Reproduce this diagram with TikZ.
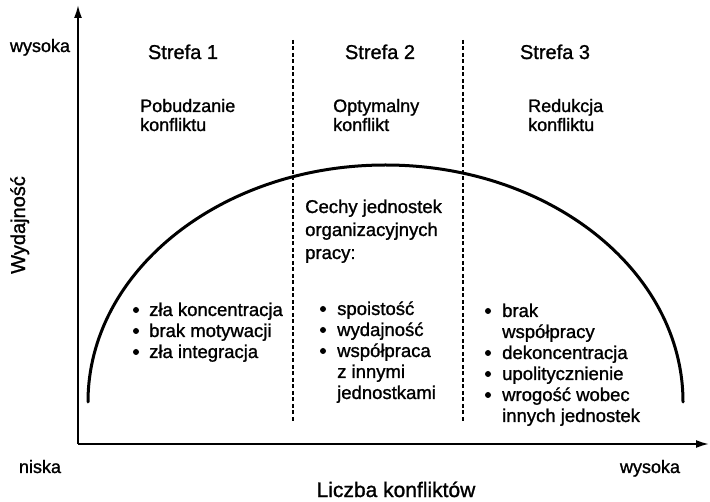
\documentclass[tikz,border=0pt]{standalone}
\usepackage{fontspec}
\setmainfont{Liberation Sans}
\newfontfamily\heavysans{Liberation Sans}[RawFeature={embolden=1.2}]
\usetikzlibrary{arrows.meta}
\begin{document}
\begin{tikzpicture}[x=1pt,y=-1pt,
  axis/.style={line width=1.8pt,-{Latex[length=13pt,width=8pt]}},
  zoneline/.style={line width=1.4pt,dash pattern=on 4pt off 2.5pt},
  curveline/.style={line width=3pt,line cap=round},
  lbl/.style={inner sep=0pt,anchor=base west,font=\heavysans\fontsize{18}{21}\selectfont},
  zonetitle/.style={inner sep=0pt,anchor=base,font=\heavysans\fontsize{20}{24}\selectfont},
  item/.style={inner sep=0pt,anchor=base west,font=\heavysans\fontsize{18.5}{21}\selectfont},
  dot/.style={circle,fill=black,inner sep=0pt,minimum size=6pt}]
\useasboundingbox (0,0) rectangle (710,502);

% axes
\coordinate (origin) at (78,444);
\coordinate (ytop) at (78,5);
\coordinate (xend) at (709,444);
\draw[axis] (origin) -- (ytop);
\draw[axis] (origin) -- (xend);

% zone boundaries
\coordinate (d1t) at (293,40); \coordinate (d1b) at (293,422);
\coordinate (d2t) at (463,40); \coordinate (d2b) at (463,422);
\draw[zoneline] (d1t) -- (d1b);
\draw[zoneline] (d2t) -- (d2b);

% performance curve (half ellipse; y axis points down here)
\coordinate (cstart) at (88,402);
\draw[curveline] (cstart) arc[start angle=180,end angle=360,x radius=297.5,y radius=237];

% axis labels
\node[lbl,anchor=base] (yhigh) at (40,52) {wysoka};
\node[lbl,anchor=base] (ylow) at (40,473) {niska};
\node[lbl,anchor=base] (xhigh) at (650,473) {wysoka};
\node[inner sep=0pt,anchor=base,font=\heavysans\fontsize{21}{24}\selectfont] (xlabel) at (396,497) {Liczba konfliktów};
\node[inner sep=0pt,anchor=base,rotate=90,font=\heavysans\fontsize{20}{24}\selectfont] (ylabel) at (25,225) {Wydajność};

% zone titles
\node[zonetitle] (s1) at (183,59) {Strefa 1};
\node[zonetitle] (s2) at (380,59) {Strefa 2};
\node[zonetitle] (s3) at (555,59) {Strefa 3};

% zone descriptions
\node[lbl] (p1) at (140,112) {Pobudzanie};
\node[lbl] (p2) at (140,131) {konfliktu};
\node[lbl] (o1) at (333,112) {Optymalny};
\node[lbl] (o2) at (333,131) {konflikt};
\node[lbl] (r1) at (528,112) {Redukcja};
\node[lbl] (r2) at (528,131) {konfliktu};

% unit features
\node[item] (c1) at (305,213) {Cechy jednostek};
\node[item] (c2) at (305,236) {organizacyjnych};
\node[item] (c3) at (305,259) {pracy:};

% zone 1 list
\node[item] (a1) at (149,316) {zła koncentracja};
\node[item] (a2) at (149,337) {brak motywacji};
\node[item] (a3) at (149,358) {zła integracja};
\foreach \y in {310,331,352} \node[dot] at (136,\y) {};

% zone 2 list
\node[item] (b1) at (337,315) {spoistość};
\node[item] (b2) at (337,336) {wydajność};
\node[item] (b3) at (337,357) {współpraca};
\node[item] (b4) at (337,378) {z innymi};
\node[item] (b5) at (337,399) {jednostkami};
\foreach \y in {309,330,351} \node[dot] at (323,\y) {};

% zone 3 list
\node[item] (e1) at (502,317) {brak};
\node[item] (e2) at (502,338) {współpracy};
\node[item] (e3) at (502,359) {dekoncentracja};
\node[item] (e4) at (502,380) {upolitycznienie};
\node[item] (e5) at (502,401) {wrogość wobec};
\node[item] (e6) at (502,422) {innych jednostek};
\foreach \y in {311,353,374,395} \node[dot] at (488,\y) {};
\end{tikzpicture}
\end{document}
